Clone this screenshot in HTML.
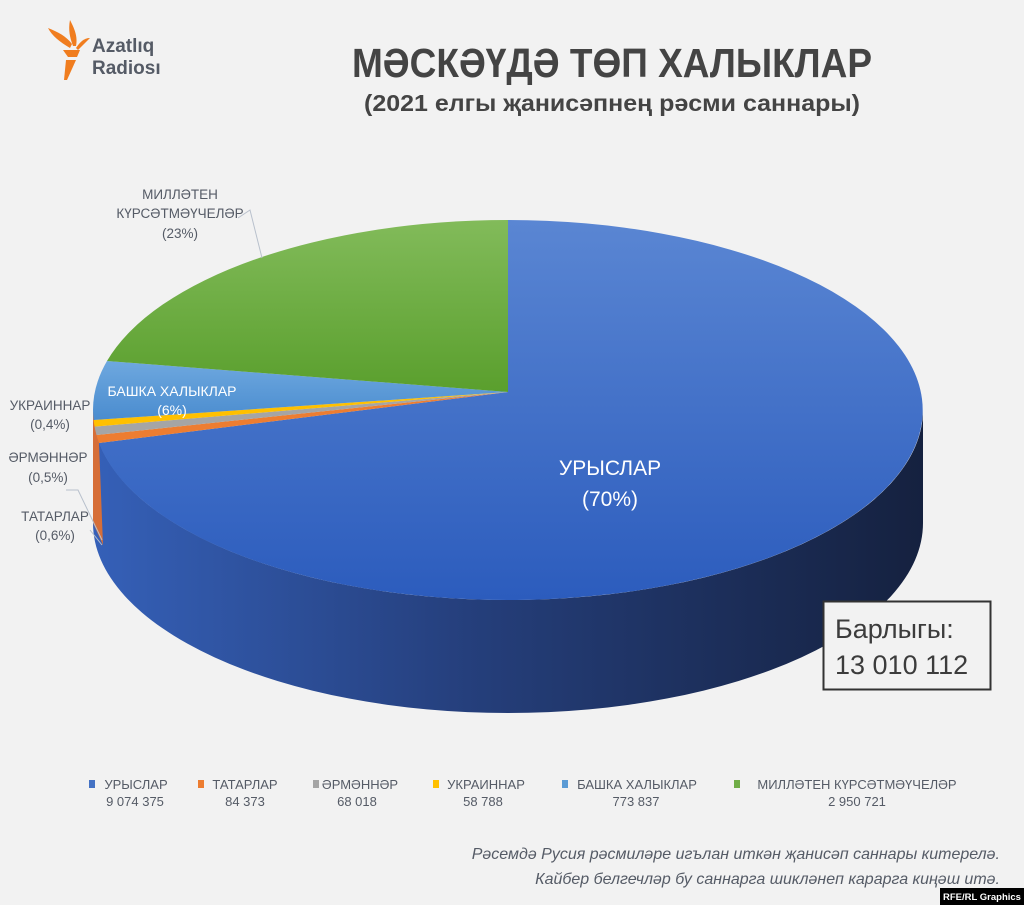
<!DOCTYPE html>
<html><head><meta charset="utf-8"><style>
html,body{margin:0;padding:0;background:#f2f2f2;}
body{width:1024px;height:905px;overflow:hidden;position:relative;font-family:"Liberation Sans","DejaVu Sans",sans-serif;}
</style></head><body>
<svg width="1024" height="905" viewBox="0 0 1024 905" xmlns="http://www.w3.org/2000/svg" style="position:absolute;left:0;top:0">
<defs>
<linearGradient id="side" x1="0" y1="0" x2="1" y2="0">
<stop offset="0" stop-color="#3560b8"/><stop offset="0.45" stop-color="#253f7c"/><stop offset="1" stop-color="#15213f"/></linearGradient>
<linearGradient id="blue" x1="0" y1="0" x2="0" y2="1">
<stop offset="0" stop-color="#5a86d3"/><stop offset="1" stop-color="#2c5cbd"/></linearGradient>
<linearGradient id="green" x1="0" y1="0" x2="0" y2="1">
<stop offset="0" stop-color="#82bb5a"/><stop offset="1" stop-color="#5a9f2d"/></linearGradient>
<linearGradient id="lb" x1="0" y1="0" x2="0" y2="1">
<stop offset="0" stop-color="#6ea8df"/><stop offset="1" stop-color="#4a8ccf"/></linearGradient>
</defs>
<!-- logo -->
<g fill="#f07d1f">
<path d="M63 50 L80 50 L77 57 L68 57 Z"/>
<path d="M66 60 L76 60 L67 80 L64 80 Z"/>
<path d="M70 48 C60 42 52 36 48 28 C58 32 66 36 72 44 Z"/>
<path d="M73 46 C70 38 68 30 70 20 C74 28 78 36 76 46 Z"/>
<path d="M76 48 C80 42 84 38 90 38 C86 42 82 46 78 50 Z"/>
</g>
<text x="92" y="52" font-size="19" font-weight="bold" fill="#555b66">Azatlıq</text>
<text x="92" y="74" font-size="19" font-weight="bold" fill="#555b66">Radiosı</text>
<text x="612" y="77" text-anchor="middle" font-size="41" font-weight="bold" fill="#444" textLength="520" lengthAdjust="spacingAndGlyphs">МӘСКӘҮДӘ ТӨП ХАЛЫКЛАР</text>
<text x="612" y="111" text-anchor="middle" font-size="23" font-weight="bold" fill="#444" textLength="496" lengthAdjust="spacingAndGlyphs">(2021 елгы җанисәпнең рәсми саннары)</text>

<!-- side -->
<path d="M923 410 A415 190 0 0 1 93 410 L93 523 A415 190 0 0 0 923 523 Z" fill="url(#side)"/>
<path d="M93 410 L99 443 L103 545 L93 523 Z" fill="#e8702a" opacity="0.9"/>
<!-- top -->
<path d="M508 392 L508 220 A415 190 0 1 1 99 443 Z" fill="url(#blue)"/>
<path d="M508 392 L99 443 A415 190 0 0 1 96.5 435 Z" fill="#ed7d31"/>
<path d="M508 392 L96.5 435 A415 190 0 0 1 94.6 426.6 Z" fill="#a5a5a5"/>
<path d="M508 392 L94.6 426.6 A415 190 0 0 1 93.6 420 Z" fill="#ffc000"/>
<path d="M508 392 L93.6 420 A415 190 0 0 1 107 361 Z" fill="url(#lb)"/>
<path d="M508 392 L107 361 A415 190 0 0 1 508 220 Z" fill="url(#green)"/>

<g fill="#fff" font-size="21" text-anchor="middle">
<text x="610" y="475">УРЫСЛАР</text><text x="610" y="506">(70%)</text></g>
<g fill="#fff" font-size="14" text-anchor="middle">
<text x="172" y="396">БАШКА ХАЛЫКЛАР</text><text x="172" y="415">(6%)</text></g>
<g fill="#555b66" font-size="13.5" text-anchor="middle">
<text x="180" y="199">МИЛЛӘТЕН</text><text x="180" y="218">КҮРСӘТМӘҮЧЕЛӘР</text><text x="180" y="238">(23%)</text>
<text x="50" y="410">УКРАИННАР</text><text x="50" y="429">(0,4%)</text>
<text x="48" y="462">ӘРМӘННӘР</text><text x="48" y="482">(0,5%)</text>
<text x="55" y="521">ТАТАРЛАР</text><text x="55" y="540">(0,6%)</text>
</g>
<g stroke="#b8c0cc" fill="none" stroke-width="1">
<path d="M238 218 L250 210 L262 258"/>
<path d="M66 490 L78 490 L102 540"/>
<path d="M90 530 L102 545"/>
</g>
<!-- box -->
<rect x="823.5" y="601.5" width="167" height="88" fill="#f2f2f2" stroke="#333" stroke-width="2"/>
<text x="835" y="638" font-size="27" fill="#3c3c3c">Барлыгы:</text>
<text x="835" y="674" font-size="27" fill="#3c3c3c">13 010 112</text>
<!-- legend -->
<g font-size="13" fill="#555b66" text-anchor="middle">
<rect x="89" y="780" width="6" height="8" fill="#4472c4"/><text x="136" y="789">УРЫСЛАР</text><text x="135" y="806">9 074 375</text>
<rect x="198" y="780" width="6" height="8" fill="#ed7d31"/><text x="245" y="789">ТАТАРЛАР</text><text x="245" y="806">84 373</text>
<rect x="313" y="780" width="6" height="8" fill="#a5a5a5"/><text x="360" y="789">ӘРМӘННӘР</text><text x="357" y="806">68 018</text>
<rect x="433" y="780" width="6" height="8" fill="#ffc000"/><text x="486" y="789">УКРАИННАР</text><text x="483" y="806">58 788</text>
<rect x="562" y="780" width="6" height="8" fill="#5b9bd5"/><text x="637" y="789">БАШКА ХАЛЫКЛАР</text><text x="636" y="806">773 837</text>
<rect x="734" y="780" width="6" height="8" fill="#70ad47"/><text x="857" y="789">МИЛЛӘТЕН КҮРСӘТМӘҮЧЕЛӘР</text><text x="857" y="806">2 950 721</text>
</g>
<g font-size="16" font-style="italic" fill="#555b66" text-anchor="end">
<text x="1000" y="859">Рәсемдә Русия рәсмиләре игълан иткән җанисәп саннары китерелә.</text>
<text x="1000" y="884">Кайбер белгечләр бу саннарга шикләнеп карарга киңәш итә.</text>
</g>
<rect x="940" y="888" width="84" height="17" fill="#000"/>
<text x="982" y="900" font-size="9.5" font-weight="bold" fill="#fff" text-anchor="middle">RFE/RL Graphics</text>
</svg>
</body></html>
